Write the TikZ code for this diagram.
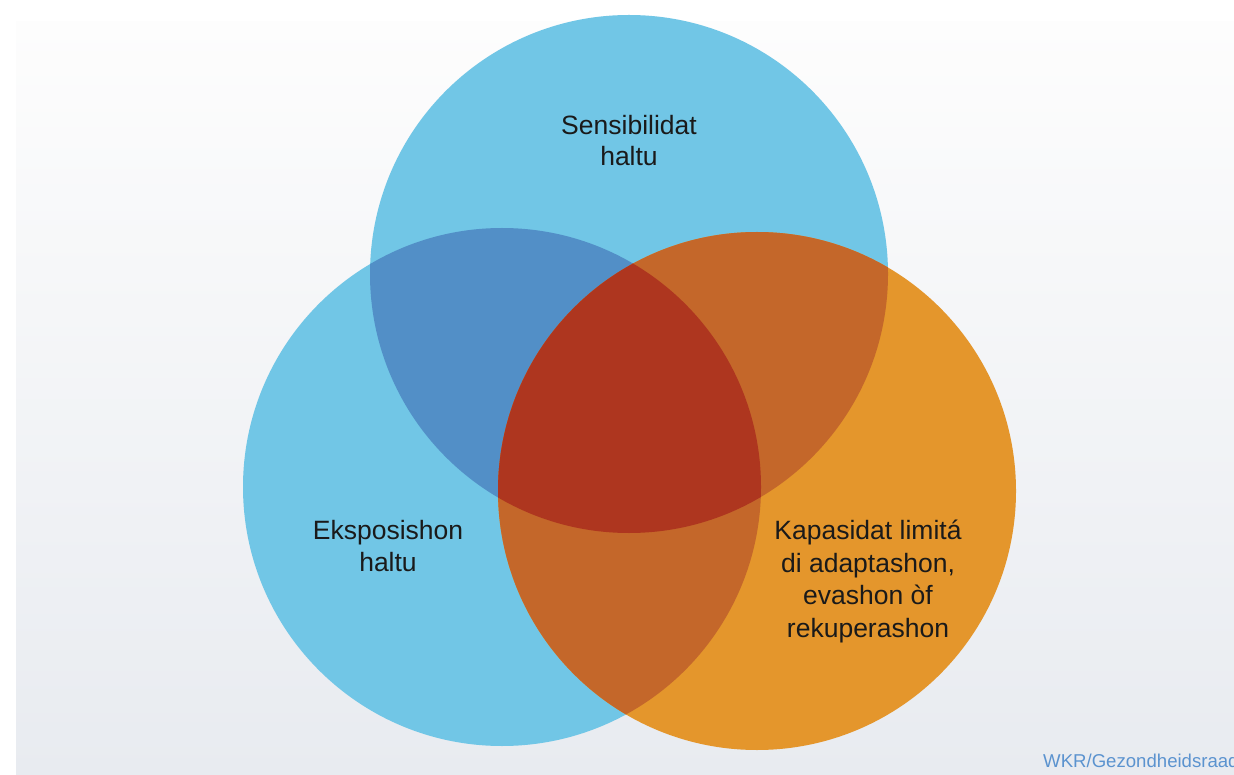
\documentclass[tikz,border=0pt]{standalone}
\usepackage{fontspec}
\setsansfont{Liberation Sans}
\definecolor{sky}{HTML}{71C6E6}
\definecolor{deep}{HTML}{528FC7}
\definecolor{amber}{HTML}{E4962C}
\definecolor{rust}{HTML}{C4672A}
\definecolor{core}{HTML}{AE361F}
\definecolor{ink}{HTML}{1A1A1A}
\definecolor{credit}{HTML}{5B93CF}
\definecolor{bgtop}{HTML}{FDFDFD}
\definecolor{bgbot}{HTML}{E8EBF0}
\newcommand{\circr}{259pt}

\begin{document}
\begin{tikzpicture}[x=1pt, y=-1pt, font=\sffamily,
    lbl/.style={text=ink, align=center, anchor=north, inner sep=0pt,
      font=\sffamily\fontsize{26.5}{31.5}\selectfont}]
  \useasboundingbox (0,0) rectangle (1234,775);
  \fill[white] (0,0) rectangle (1234,775);
  \shade[top color=bgtop, bottom color=bgbot] (16,22) rectangle (1234,775);

  % circle centres
  \coordinate (sens) at (629,274);
  \coordinate (expo) at (502,487);
  \coordinate (kapa) at (757,491);

  % the three circles
  \fill[sky] (expo) circle[radius=\circr];
  \fill[sky] (sens) circle[radius=\circr];
  \fill[amber] (kapa) circle[radius=\circr];

  % overlaps with the top circle
  \begin{scope}
    \clip (sens) circle[radius=\circr];
    \fill[deep] (expo) circle[radius=\circr];
    \fill[rust] (kapa) circle[radius=\circr];
  \end{scope}
  % overlaps with the left circle, and the middle
  \begin{scope}
    \clip (expo) circle[radius=\circr];
    \fill[rust] (kapa) circle[radius=\circr];
    \clip (sens) circle[radius=\circr];
    \fill[core] (kapa) circle[radius=\circr];
  \end{scope}

  % labels
  \node[lbl] (sensLbl) at (629,115) {Sensibilidat\\haltu};
  \node[lbl] (expoLbl) at (388,520.5) {Eksposishon\\haltu};
  \node[lbl, font=\sffamily\fontsize{26.5}{32.5}\selectfont] (kapaLbl) at (868,520)
    {Kapasidat limitá\\di adaptashon,\\evashon òf\\rekuperashon};

  \node[anchor=base west, inner sep=0pt, text=credit,
    font=\sffamily\fontsize{18.6}{22}\selectfont] (src) at (1043,767) {WKR/Gezondheidsraad};
\end{tikzpicture}
\end{document}
